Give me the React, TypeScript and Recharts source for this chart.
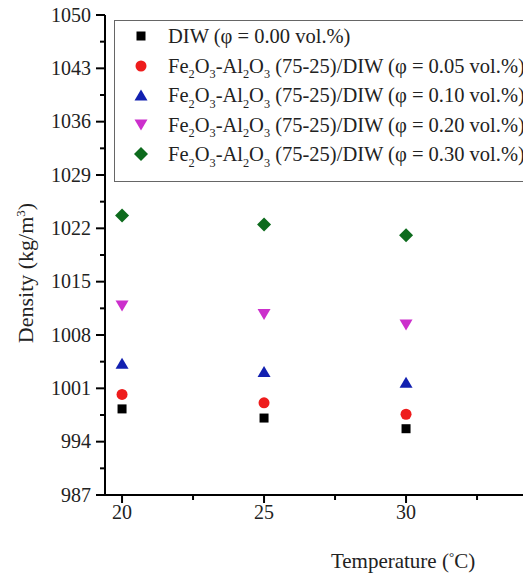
import { Legend, Label, Scatter, ScatterChart, XAxis, YAxis } from "recharts";

const temperatures = [20, 25, 30];
const densityDIW = [998.3, 997.1, 995.7];
const density005 = [1000.2, 999.1, 997.6];
const density010 = [1004.3, 1003.2, 1001.8];
const density020 = [1011.8, 1010.7, 1009.3];
const density030 = [1023.7, 1022.5, 1021.1];

const xTicks = [20, 22.5, 25, 27.5, 30, 32.5];
const xMajor = [20, 25, 30];
const yMajor = [987, 994, 1001, 1008, 1015, 1022, 1029, 1036, 1043, 1050];
const yMinor = [990.5, 997.5, 1004.5, 1011.5, 1018.5, 1025.5, 1032.5, 1039.5, 1046.5];

const FONT = "'Liberation Serif', 'Times New Roman', serif";

type MarkerKind = "square" | "circle" | "up" | "down" | "diamond";

const series: { name: string; phi: string; kind: MarkerKind; color: string; values: number[] }[] = [
  { name: "DIW", phi: "0.00", kind: "square", color: "#000000", values: densityDIW },
  { name: "hybrid", phi: "0.05", kind: "circle", color: "#ee1c1c", values: density005 },
  { name: "hybrid", phi: "0.10", kind: "up", color: "#1220b0", values: density010 },
  { name: "hybrid", phi: "0.20", kind: "down", color: "#cc2fcc", values: density020 },
  { name: "hybrid", phi: "0.30", kind: "diamond", color: "#0d6b1d", values: density030 },
];

const toPoints = (values: number[]) =>
  temperatures.map((t, i) => ({ temp: t, density: values[i] }));

const Marker = ({ kind, cx, cy, color }: { kind: MarkerKind; cx: number; cy: number; color: string }) => {
  switch (kind) {
    case "square":
      return <rect x={cx - 4.5} y={cy - 4.5} width={9} height={9} fill={color} />;
    case "circle":
      return <circle cx={cx} cy={cy} r={5.5} fill={color} />;
    case "up":
      return <polygon points={`${cx - 6.5},${cy + 5.5} ${cx + 6.5},${cy + 5.5} ${cx},${cy - 5.5}`} fill={color} />;
    case "down":
      return <polygon points={`${cx - 6.5},${cy - 5.5} ${cx + 6.5},${cy - 5.5} ${cx},${cy + 5.5}`} fill={color} />;
    default:
      return <polygon points={`${cx},${cy - 7} ${cx + 7},${cy} ${cx},${cy + 7} ${cx - 7},${cy}`} fill={color} />;
  }
};

const XTick = ({ x, y, payload }: any) => {
  const major = xMajor.includes(payload.value);
  return (
    <g>
      <line x1={x} x2={x} y1={y} y2={y + (major ? 8 : 5)} stroke="#000" strokeWidth={2} />
      {major && (
        <text x={x} y={y + 23.5} textAnchor="middle" fontSize={20} fontFamily={FONT} fill="#222">
          {payload.value}
        </text>
      )}
    </g>
  );
};

const YTick = ({ x, y, payload }: any) => {
  const major = yMajor.includes(payload.value);
  return (
    <g>
      <line x1={x} x2={x - (major ? 9 : 5)} y1={y} y2={y} stroke="#000" strokeWidth={2} />
      {major && (
        <text x={x - 14} y={y + 6.5} textAnchor="end" fontSize={20} fontFamily={FONT} fill="#222">
          {payload.value}
        </text>
      )}
    </g>
  );
};

const Sub = ({ children }: { children: string }) => (
  <span style={{ fontSize: "0.6em", position: "relative", top: "0.45em" }}>{children}</span>
);

const LegendBox = () => (
  <div
    style={{
      position: "relative",
      width: 415,
      height: 162,
      border: "1px solid #666",
      boxSizing: "border-box",
      background: "#fff",
      fontFamily: FONT,
      fontSize: 20.5,
      color: "#222",
    }}
  >
    {series.map((s, i) => {
      const cy = 15 + i * 29.5;
      return (
        <div key={s.phi} style={{ position: "absolute", left: 0, top: cy - 15, height: 30, width: 415 }}>
          <svg width={40} height={30} style={{ position: "absolute", left: 6, top: 0 }}>
            <Marker kind={s.kind} cx={20} cy={15} color={s.color} />
          </svg>
          <div style={{ position: "absolute", left: 53, top: 0, lineHeight: "30px", whiteSpace: "nowrap" }}>
            {s.name === "DIW" ? (
              <>DIW (φ = {s.phi} vol.%)</>
            ) : (
              <>
                Fe<Sub>2</Sub>O<Sub>3</Sub>-Al<Sub>2</Sub>O<Sub>3</Sub> (75-25)/DIW (φ = {s.phi} vol.%)
              </>
            )}
          </div>
        </div>
      );
    })}
  </div>
);

export default function App() {
  return (
    <div style={{ margin: "-8px 0 0 -8px", width: 531, height: 580, background: "#fff" }}>
      <ScatterChart width={531} height={580} margin={{ top: 15, right: 0, bottom: 0, left: 0 }}>
        <XAxis
          dataKey="temp"
          type="number"
          domain={[19.4, 34.4]}
          allowDataOverflow
          ticks={xTicks}
          interval={0}
          tickSize={0}
          tickMargin={0}
          tickLine={false}
          tick={<XTick />}
          axisLine={{ stroke: "#000", strokeWidth: 2 }}
          height={85}
        >
          <Label
            content={() => (
              <text x={403} y={568} textAnchor="middle" fontSize={21} fontFamily={FONT} fill="#222">
                Temperature (<tspan dy={-7} fontSize={13}>°</tspan>
                <tspan dy={7}>C)</tspan>
              </text>
            )}
          />
        </XAxis>
        <YAxis
          dataKey="density"
          type="number"
          domain={[987, 1050]}
          allowDataOverflow
          ticks={[...yMajor, ...yMinor].sort((a, b) => a - b)}
          interval={0}
          tickSize={0}
          tickMargin={0}
          tickLine={false}
          tick={<YTick />}
          axisLine={{ stroke: "#000", strokeWidth: 2 }}
          width={105}
        >
          <Label
            content={() => (
              <text
                x={33}
                y={273}
                textAnchor="middle"
                fontSize={22}
                fontFamily={FONT}
                fill="#222"
                transform="rotate(-90, 33, 273)"
              >
                Density (kg/m<tspan dy={-8} fontSize={13}>3</tspan>
                <tspan dy={8}>)</tspan>
              </text>
            )}
          />
        </YAxis>
        <Legend
          layout="vertical"
          align="center"
          verticalAlign="middle"
          content={() => <LegendBox />}
          wrapperStyle={{ position: "absolute", left: 114, top: 20, width: 415, height: 162 }}
        />
        {series.map((s) => (
          <Scatter
            key={s.phi}
            name={s.phi}
            data={toPoints(s.values)}
            isAnimationActive={false}
            shape={(p: any) => <Marker kind={s.kind} cx={p.cx} cy={p.cy} color={s.color} />}
          />
        ))}
      </ScatterChart>
    </div>
  );
}
